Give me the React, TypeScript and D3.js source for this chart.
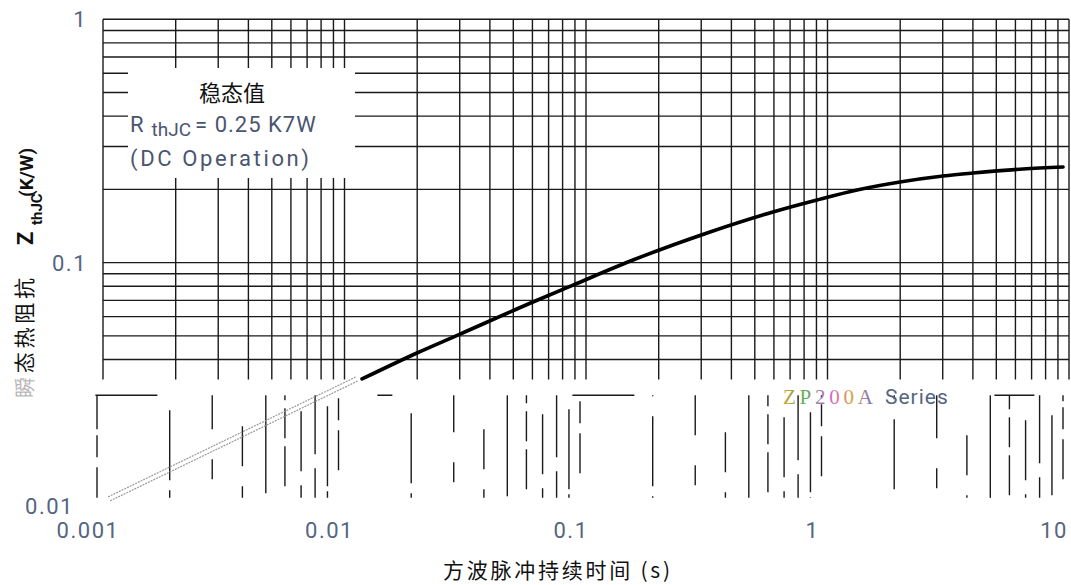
import React from "react";
import * as d3 from "d3";

// ---- data ----
const xTickValues = [0.001, 0.01, 0.1, 1, 10];
const xTickLabels = ["0.001", "0.01", "0.1", "1", "10"];
const yTickValues = [0.01, 0.1, 1];
const yTickLabels = ["0.01", "0.1", "1"];

// transient thermal impedance curve (solid part)
const pulseTime = [0.01182, 0.01995, 0.03009, 0.0603, 0.0884, 0.1565, 0.3263, 0.5945, 0.9048, 1.325, 1.996, 3.008, 4.005, 6.45, 9.45];
const zthJC = [0.03326, 0.04253, 0.05086, 0.0689, 0.0809, 0.1025, 0.1337, 0.1615, 0.1809, 0.1988, 0.2145, 0.227, 0.2335, 0.2425, 0.2472];

// faint (scanned-out) extension of the curve
const fadedTime = [0.00105, 0.0112];
const fadedZ = [0.0109, 0.034];

const annotTitle = "稳态值";
const seriesName = "ZP200A";

const W = 1071;
const H = 585;

export default function App() {
  const x = d3.scaleLog().domain([0.001, 10]).range([103, 1069]);
  const y = d3.scaleLog().domain([0.01, 1]).range([506, 19.3]);

  const minorX: number[] = [];
  for (let e = -3; e < 1; e++) for (let m = 1; m <= 9; m++) minorX.push(m * Math.pow(10, e));
  minorX.push(10);
  const minorYUpper: number[] = [];
  for (let m = 4; m <= 9; m++) minorYUpper.push(m * 0.01);
  for (let m = 1; m <= 9; m++) minorYUpper.push(m * 0.1);
  minorYUpper.push(1);

  const gridBottomZ = 0.0331;
  const yGridBottom = y(gridBottomZ);

  const line = d3
    .line<number>()
    .x((_, i) => x(pulseTime[i]))
    .y((d) => y(d))
    .curve(d3.curveMonotoneX);
  const fadedLine = d3
    .line<number>()
    .x((_, i) => x(fadedTime[i]))
    .y((d) => y(d));

  const dashes = [
    "34 6 22 10 40",
    "8 20 70 10",
    "60 30 20",
    "20 50 40",
    "110",
    "30 8 30 8 40",
    "14 40 60",
    "70 14 30",
    "5 30 80",
  ];

  const gridColor = "#1a1a1a";
  const labelColor = "#55657f";
  const font = "Roboto, 'Noto Sans', sans-serif";
  const cjk = "'Noto Sans CJK SC', sans-serif";

  return (
    <svg
      width={W}
      height={H}
      style={{ position: "absolute", left: 0, top: 0, background: "#fff" }}
    >
      <defs>
        <linearGradient id="rainbow" x1="0" x2="1" y1="0" y2="0">
          <stop offset="0" stopColor="#d8a030" />
          <stop offset="0.25" stopColor="#58b060" />
          <stop offset="0.5" stopColor="#d060d8" />
          <stop offset="0.75" stopColor="#e0a040" />
          <stop offset="1" stopColor="#7070d0" />
        </linearGradient>
      </defs>

      {/* upper grid */}
      <g stroke={gridColor} strokeWidth={1.4}>
        {minorX.map((v, i) => (
          <line key={"vx" + i} x1={x(v)} x2={x(v)} y1={y(1)} y2={yGridBottom} />
        ))}
        {minorYUpper.map((v, i) => (
          <line key={"hy" + i} x1={x(0.001)} x2={x(10)} y1={y(v)} y2={y(v)} />
        ))}
      </g>

      {/* lower broken grid */}
      <g stroke={gridColor} strokeWidth={1.4}>
        {minorX.map((v, i) => (
          <line
            key={"lx" + i}
            x1={x(v) - 6}
            x2={x(v) - 6}
            y1={y(0.0285)}
            y2={y(0.0108)}
            strokeDasharray={dashes[i % dashes.length]}
            strokeDashoffset={(i * 13) % 40}
          />
        ))}
        <line
          x1={x(0.00093)}
          x2={x(10)}
          y1={y(0.0285)}
          y2={y(0.0285)}
          strokeDasharray="62 220 15 180 62 360 40"
        />
      </g>

      {/* annotation box */}
      <rect x={128} y={68} width={227} height={110} fill="#fff" />
      <text x={232} y={101} textAnchor="middle" fontFamily={cjk} fontSize={22} fill="#111">
        {annotTitle}
      </text>
      <text x={130} y={132} fontFamily={font} fontSize={22} fill="#4a5570">
        R
        <tspan dx={8} dy={4} fontSize={19}>thJC</tspan>
        <tspan dy={-4} dx={4} letterSpacing={1}>= 0.25 K7W</tspan>
      </text>
      <text x={130} y={166} fontFamily={font} fontSize={22} fill="#4a5570" textLength={179}>
        (DC Operation)
      </text>

      {/* faint curve */}
      <g fill="none" stroke="#9a9a9a" strokeWidth={1.2} strokeDasharray="2 1">
        <path d={fadedLine(fadedZ) || ""} />
        <path d={fadedLine(fadedZ) || ""} transform="translate(2,4)" />
      </g>

      {/* main curve */}
      <path d={line(zthJC) || ""} fill="none" stroke="#000" strokeWidth={3.6} strokeLinecap="round" />

      {/* series label */}
      <text x={783} y={404} fontFamily="'Liberation Serif', serif" fontSize={21} fill="url(#rainbow)" textLength={90}>
        {seriesName}
      </text>
      <text x={885} y={404} fontFamily={font} fontSize={21} fill={labelColor} letterSpacing={1}>
        Series
      </text>

      {/* tick labels */}
      {xTickValues.map((v, i) => (
        <text
          key={"xt" + i}
          x={x(v) - 15}
          y={538}
          textAnchor="middle"
          fontFamily={font}
          fontSize={22}
          letterSpacing={1.5}
          fill={labelColor}
        >
          {xTickLabels[i]}
        </text>
      ))}
      {yTickValues.map((v, i) => (
        <text
          key={"yt" + i}
          x={v === 0.01 ? 74 : 87}
          y={y(v) + 8}
          textAnchor="end"
          fontFamily={font}
          fontSize={22}
          letterSpacing={1.5}
          fill={labelColor}
        >
          {yTickLabels[i]}
        </text>
      ))}

      {/* x axis title */}
      <text x={443} y={578} fontFamily={cjk} fontSize={21} fill="#111" textLength={227}>
        方波脉冲持续时间 (s)
      </text>

      {/* y axis title */}
      <g transform="translate(32,398) rotate(-90)">
        <text x={0} y={0} fontFamily={cjk} fontSize={21} fill="#111" textLength={120}>
          <tspan opacity={0.3}>瞬</tspan>态热阻抗
        </text>
      </g>
      <g transform="translate(33,245) rotate(-90)">
        <text x={0} y={0} fontFamily={font} fontSize={22} fontWeight={700} fill="#111">
          Z
        </text>
      </g>
      <g transform="translate(42,225) rotate(-90)">
        <text x={0} y={0} fontFamily={font} fontSize={15} fontWeight={700} fill="#111">
          thJC
        </text>
      </g>
      <g transform="translate(33,197) rotate(-90)">
        <text x={0} y={0} fontFamily={font} fontSize={19} fontWeight={700} fill="#111">
          (K/W)
        </text>
      </g>
    </svg>
  );
}
